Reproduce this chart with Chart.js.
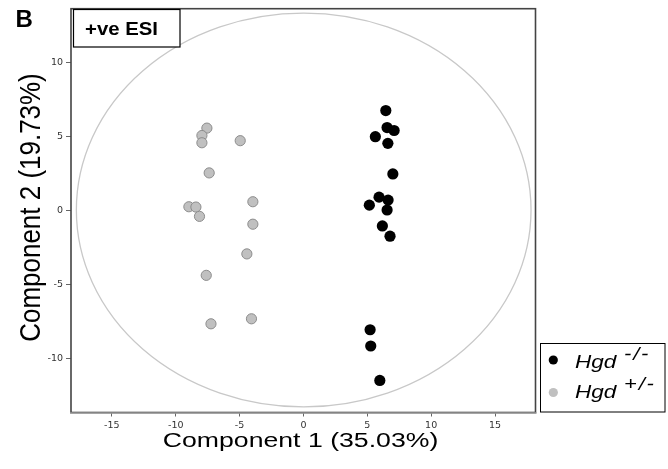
<!DOCTYPE html>
<html>
<head>
<meta charset="utf-8">
<script src="https://cdn.jsdelivr.net/npm/chart.js@4/dist/chart.umd.min.js"></script>
<style>
  html, body { margin: 0; padding: 0; background: #fff; }
  #wrap { width: 668px; height: 469px; }
</style>
</head>
<body>
<div id="wrap"><canvas id="pca"></canvas></div>
<script>
// PCA scores
const seriesNames = ['Hgd', 'Hgd'];
const seriesSup = ['-/-', '+/-'];
const knockoutX = [6.45, 6.55, 7.10, 5.63, 6.61, 7.00, 5.92, 6.63, 5.16, 6.55, 6.18, 6.78, 5.22, 5.27, 5.98];
const knockoutY = [6.78, 5.63, 5.43, 5.01, 4.56, 2.49, 0.92, 0.72, 0.38, 0.05, -1.03, -1.72, -8.05, -9.15, -11.48];
const hetX = [-7.56, -7.95, -7.95, -4.95, -7.38, -3.96, -8.97, -8.42, -8.14, -3.96, -4.43, -7.61, -4.07, -7.24];
const hetY = [5.59, 5.09, 4.60, 4.74, 2.56, 0.61, 0.27, 0.25, -0.38, -0.91, -2.92, -4.37, -7.31, -7.65];
const xTicks = [-15, -10, -5, 0, 5, 10, 15];
const yTicks = [-10, -5, 0, 5, 10];
const xTitle = 'Component 1 (35.03%)';
const yTitle = 'Component 2 (19.73%)';
const panelLabel = 'B';
const modeLabel = '+ve ESI';
// confidence ellipse, in data units
const ellipseCenter = [0.02, 0.05];
const ellipseRadius = [17.8, 13.32];

const BLACK = '#000';
const GREY = '#c0c0c0';

function toPoints(xs, ys) {
  return xs.map((x, i) => ({ x: x, y: ys[i] }));
}

// text in the figure is stretched horizontally, so draw with a scale
function drawText(ctx, text, x, y, font, sx, sy, align) {
  ctx.save();
  ctx.translate(x, y);
  ctx.scale(sx, sy);
  ctx.font = font;
  ctx.textAlign = align || 'left';
  ctx.textBaseline = 'alphabetic';
  ctx.fillStyle = '#000';
  ctx.fillText(text, 0, 0);
  ctx.restore();
}

const decorPlugin = {
  id: 'decor',
  beforeDatasetsDraw(chart) {
    const ctx = chart.ctx;
    const xs = chart.scales.x, ys = chart.scales.y;
    const cx = xs.getPixelForValue(ellipseCenter[0]);
    const cy = ys.getPixelForValue(ellipseCenter[1]);
    const rx = xs.getPixelForValue(ellipseCenter[0] + ellipseRadius[0]) - cx;
    const ry = cy - ys.getPixelForValue(ellipseCenter[1] + ellipseRadius[1]);
    ctx.save();
    ctx.strokeStyle = '#c8c8c8';
    ctx.lineWidth = 1.3;
    ctx.beginPath();
    ctx.ellipse(cx, cy, rx, ry, 0, 0, Math.PI * 2);
    ctx.stroke();
    ctx.restore();
  },
  afterDraw(chart) {
    const ctx = chart.ctx;
    const a = chart.chartArea;

    // plot frame
    ctx.save();
    ctx.strokeStyle = '#444';
    ctx.lineWidth = 1.6;
    ctx.strokeRect(a.left, a.top, a.right - a.left, a.bottom - a.top);
    ctx.strokeStyle = '#9a9a9a';
    ctx.beginPath();
    ctx.moveTo(a.left - 1, a.bottom + 0.5);
    ctx.lineTo(a.right + 1, a.bottom + 0.5);
    ctx.stroke();
    ctx.restore();

    // "+ve ESI" box
    ctx.save();
    ctx.fillStyle = '#fff';
    ctx.fillRect(73, 9, 107, 38);
    ctx.strokeStyle = '#000';
    ctx.lineWidth = 1.2;
    ctx.strokeRect(73.5, 9.5, 106.5, 37.5);
    ctx.restore();
    drawText(ctx, modeLabel, 85, 35, 'bold 18.5px "Liberation Sans", Arial, sans-serif', 1.1, 1);

    // panel letter
    drawText(ctx, panelLabel, 15.5, 27, 'bold 24px "Liberation Sans", Arial, sans-serif', 1, 1);

    // axis titles
    drawText(ctx, xTitle, 300.5, 447, '20.5px "Liberation Sans", Arial, sans-serif', 1.3, 1, 'center');
    ctx.save();
    ctx.translate(39.5, 207.5);
    ctx.rotate(-Math.PI / 2);
    drawText(ctx, yTitle, 0, 0, '26.5px "Liberation Sans", Arial, sans-serif', 0.98, 1.1, 'center');
    ctx.restore();

    // legend
    ctx.save();
    ctx.fillStyle = '#fff';
    ctx.fillRect(540, 343, 125, 69);
    ctx.strokeStyle = '#000';
    ctx.lineWidth = 1;
    ctx.strokeRect(540.5, 343.5, 124.5, 68.5);
    const rows = [{ y: 368, dot: 360, color: BLACK }, { y: 397.5, dot: 392.5, color: GREY }];
    rows.forEach((r, i) => {
      ctx.beginPath();
      ctx.arc(553.3, r.dot, 4.6, 0, Math.PI * 2);
      ctx.fillStyle = r.color;
      ctx.fill();
      drawText(ctx, seriesNames[i], 575, r.y, 'italic 18.5px "Liberation Sans", Arial, sans-serif', 1.22, 1);
      ctx.letterSpacing = '1.5px';
      drawText(ctx, seriesSup[i], 624, r.y - 8, 'italic 17.5px "Liberation Sans", Arial, sans-serif', 1.25, 1);
      ctx.letterSpacing = '0px';
    });
    ctx.restore();
  }
};

const tickFont = { family: '"DejaVu Sans", sans-serif', size: 9.5 };

new Chart(document.getElementById('pca'), {
  type: 'scatter',
  data: {
    datasets: [{
      label: 'Hgd -/-',
      data: toPoints(knockoutX, knockoutY),
      backgroundColor: BLACK,
      borderColor: BLACK,
      borderWidth: 0,
      pointRadius: 5.6
    }, {
      label: 'Hgd +/-',
      data: toPoints(hetX, hetY),
      backgroundColor: GREY,
      borderColor: '#8c8c8c',
      borderWidth: 1,
      pointRadius: 5.1
    }]
  },
  options: {
    responsive: true,
    maintainAspectRatio: false,
    animation: false,
    layout: { padding: { top: 6.5, right: 132.5, left: 0, bottom: 0 } },
    plugins: { legend: { display: false }, tooltip: { enabled: false } },
    scales: {
      x: {
        type: 'linear',
        min: -18.2,
        max: 18.17,
        afterBuildTicks: s => { s.ticks = xTicks.map(v => ({ value: v })); },
        afterFit: s => { s.height = 56.5; },
        grid: { drawOnChartArea: false, tickLength: 4, color: '#666' },
        border: { display: false },
        ticks: { font: tickFont, color: '#333', padding: 3, maxRotation: 0 }
      },
      y: {
        type: 'linear',
        min: -13.65,
        max: 13.67,
        afterBuildTicks: s => { s.ticks = yTicks.map(v => ({ value: v })); },
        afterFit: s => { s.width = 71; },
        grid: { drawOnChartArea: false, tickLength: 5, color: '#666' },
        border: { display: false },
        ticks: { font: tickFont, color: '#333', padding: 3 }
      }
    }
  },
  plugins: [decorPlugin]
});
</script>
</body>
</html>
